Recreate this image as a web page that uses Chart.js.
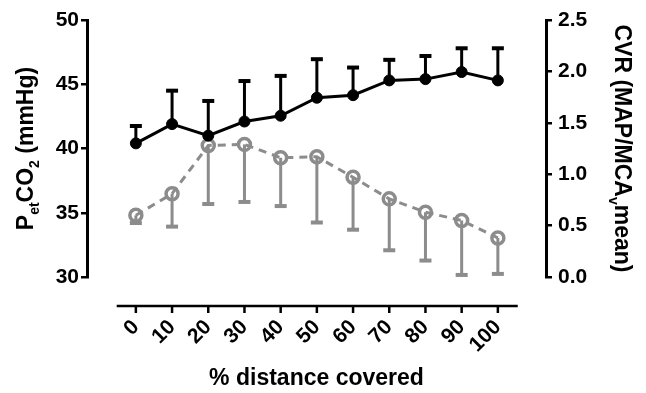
<!DOCTYPE html>
<html>
<head>
<meta charset="utf-8">
<script src="https://cdn.jsdelivr.net/npm/chart.js@4"></script>
<style>
html,body{margin:0;padding:0;background:#fff}
#wrap{width:646px;height:393px}
</style>
</head>
<body>
<div id="wrap"><canvas id="chart"></canvas></div>
<script>
// data
const distance=[0,10,20,30,40,50,60,70,80,90,100];
const petco2=[40.4,41.9,41.0,42.1,42.55,43.95,44.15,45.3,45.4,45.95,45.3];
const petco2Sd=[1.35,2.6,2.7,3.15,3.1,3.0,2.15,1.6,1.8,1.85,2.5];
const cvr=[0.60,0.81,1.28,1.29,1.16,1.17,0.97,0.76,0.63,0.55,0.38];
const cvrSd=[0.075,0.32,0.57,0.56,0.47,0.64,0.51,0.50,0.47,0.53,0.35];
const leftTicks=[30,35,40,45,50];
const rightTicks=[0,0.5,1,1.5,2,2.5];

const GREY='#8c8c8c';
const FAMILY='"Liberation Sans", Arial, Helvetica, sans-serif';

function drawRich(ctx,parts,x,y,angle,size,subSize){
  ctx.save();
  ctx.translate(x,y);
  ctx.rotate(angle);
  ctx.textBaseline='alphabetic';
  ctx.textAlign='left';
  let w=0;
  parts.forEach(p=>{
    ctx.font='bold '+(p.sub?subSize:size)+'px '+FAMILY;
    p.w=ctx.measureText(p.t).width; w+=p.w;
  });
  let cx=-w/2;
  parts.forEach(p=>{
    ctx.font='bold '+(p.sub?subSize:size)+'px '+FAMILY;
    ctx.fillStyle='#000';
    ctx.fillText(p.t,cx,p.sub?6:0);
    cx+=p.w;
  });
  ctx.restore();
}

const errorBars={
  id:'errorBars',
  beforeDatasetsDraw(chart){
    const ctx=chart.ctx, xs=chart.scales.x;
    const sets=[
      {vals:petco2,sd:petco2Sd,scale:chart.scales.yL,dir:1,color:'#000'},
      {vals:cvr,sd:cvrSd,scale:chart.scales.yR,dir:-1,color:GREY}
    ];
    ctx.save();
    sets.forEach(s=>{
      ctx.strokeStyle=s.color;
      distance.forEach((d,i)=>{
        const px=xs.getPixelForValue(d);
        const y0=s.scale.getPixelForValue(s.vals[i]);
        const y1=s.scale.getPixelForValue(s.vals[i]+s.dir*s.sd[i]);
        ctx.lineWidth=3;
        ctx.beginPath();ctx.moveTo(px,y0);ctx.lineTo(px,y1);ctx.stroke();
        ctx.lineWidth=4;
        ctx.beginPath();ctx.moveTo(px-6,y1);ctx.lineTo(px+6,y1);ctx.stroke();
      });
    });
    ctx.restore();
  },
  afterDraw(chart){
    const ctx=chart.ctx, xs=chart.scales.x;
    const axisY=chart.chartArea.bottom+29;
    ctx.save();
    ctx.strokeStyle='#000';
    ctx.lineWidth=2.5;
    ctx.beginPath();
    ctx.moveTo(xs.getPixelForValue(-5.3),axisY);
    ctx.lineTo(xs.getPixelForValue(105.5),axisY);
    ctx.stroke();
    distance.forEach(d=>{
      const px=xs.getPixelForValue(d);
      ctx.beginPath();ctx.moveTo(px,axisY);ctx.lineTo(px,axisY+7);ctx.stroke();
    });
    ctx.font='bold 23px '+FAMILY;
    ctx.fillStyle='#000';
    ctx.textAlign='center';
    ctx.textBaseline='middle';
    ctx.fillText('% distance covered',(chart.chartArea.left+chart.chartArea.right)/2,379);
    ctx.restore();
    const midY=(chart.chartArea.top+chart.chartArea.bottom)/2;
    drawRich(ctx,[{t:'P'},{t:'et',sub:true},{t:'CO'},{t:'2',sub:true},{t:' (mmHg)'}],33,midY,-Math.PI/2,23,14);
    drawRich(ctx,[{t:'CVR (MAP/MCA'},{t:'v',sub:true},{t:'mean)'}],615,midY,Math.PI/2,23,14);
  }
};

const tickFont={family:FAMILY,size:21,weight:'bold'};

new Chart(document.getElementById('chart'),{
  type:'line',
  data:{
    datasets:[
      {
        data:distance.map((d,i)=>({x:d,y:petco2[i]})),
        yAxisID:'yL',
        borderColor:'#000',
        borderWidth:3,
        pointRadius:5.5,
        pointBorderWidth:1,
        pointBackgroundColor:'#000',
        pointBorderColor:'#000',
        tension:0
      },
      {
        data:distance.map((d,i)=>({x:d,y:cvr[i]})),
        yAxisID:'yR',
        borderColor:GREY,
        borderWidth:3,
        borderDash:[8,6],
        pointRadius:6,
        pointBorderWidth:3.5,
        pointBackgroundColor:'rgba(255,255,255,0)',
        pointBorderColor:GREY,
        tension:0
      }
    ]
  },
  options:{
    responsive:true,
    maintainAspectRatio:false,
    animation:false,
    layout:{padding:{top:20,left:0,right:0,bottom:0}},
    plugins:{legend:{display:false},tooltip:{enabled:false}},
    scales:{
      x:{
        type:'linear',
        min:-13.5,max:113.3,
        afterBuildTicks:s=>{s.ticks=distance.map(v=>({value:v}));},
        afterFit:s=>{s.height=116;},
        grid:{display:false,drawTicks:false},
        border:{display:false},
        ticks:{font:tickFont,color:'#000',minRotation:45,maxRotation:45,padding:38,autoSkip:false}
      },
      yL:{
        position:'left',
        min:30,max:50,
        afterBuildTicks:s=>{s.ticks=leftTicks.map(v=>({value:v}));},
        afterFit:s=>{s.width=87;},
        grid:{drawOnChartArea:false,color:'#000',lineWidth:2.5,tickLength:6},
        border:{color:'#000',width:3},
        ticks:{font:tickFont,color:'#000',padding:2}
      },
      yR:{
        position:'right',
        min:0,max:2.5,
        afterBuildTicks:s=>{s.ticks=rightTicks.map(v=>({value:v}));},
        afterFit:s=>{s.width=100;},
        grid:{drawOnChartArea:false,color:'#000',lineWidth:2.5,tickLength:6},
        border:{color:'#000',width:3},
        ticks:{font:tickFont,color:'#000',padding:6,callback:v=>v.toFixed(1)}
      }
    }
  },
  plugins:[errorBars]
});
</script>
</body>
</html>
